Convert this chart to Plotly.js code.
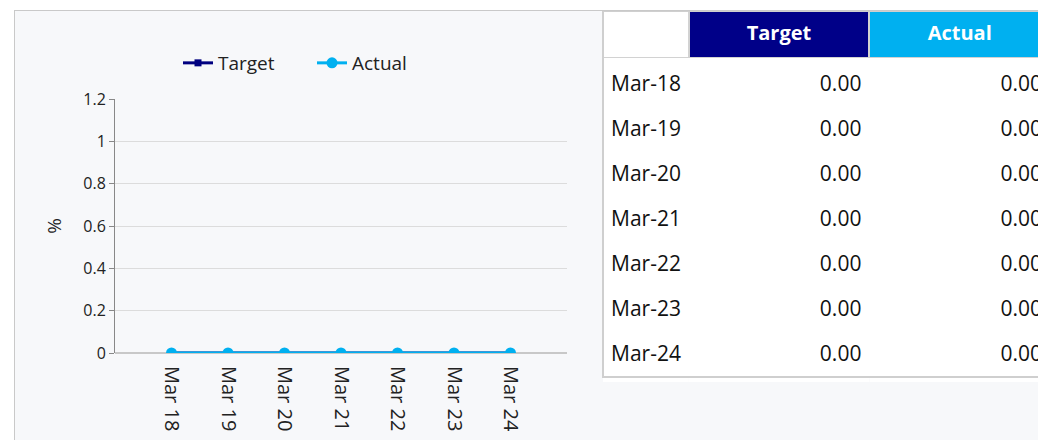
<!DOCTYPE html>
<html>
<head>
<meta charset="utf-8">
<script src="https://cdn.plot.ly/plotly-3.0.1.min.js"></script>
<style>
html,body{margin:0;padding:0;background:#ffffff;width:1038px;height:440px;overflow:hidden;}
#wrap{position:absolute;left:14px;top:10px;width:1100px;height:430px;border-left:1px solid #c9c9c9;border-top:1px solid #c9c9c9;background:#f7f8fa;}
#chart{width:1100px;height:430px;}
</style>
</head>
<body>
<div id="wrap"><div id="chart"></div></div>
<script>
const categories = ['Mar 18','Mar 19','Mar 20','Mar 21','Mar 22','Mar 23','Mar 24'];
const rowLabels = ['Mar-18','Mar-19','Mar-20','Mar-21','Mar-22','Mar-23','Mar-24'];
const targetValues = [0,0,0,0,0,0,0];
const actualValues = [0,0,0,0,0,0,0];
const seriesNames = ['Target','Actual'];
const yTicks = [0,0.2,0.4,0.6,0.8,1,1.2];

const W = 1100, H = 430;
const px = v => v / W;
const py = v => 1 - v / H;

const fmt = a => a.map(v => v.toFixed(2));
const colW = [86, 181, 181];
const tX = [px(588), px(1036)];

const traces = [
  {
    type:'scatter', mode:'lines+markers', name:seriesNames[0],
    x:categories, y:targetValues,
    line:{color:'#000080', width:3},
    marker:{symbol:'square', size:7, color:'#000080'},
    xaxis:'x', yaxis:'y'
  },
  {
    type:'scatter', mode:'lines+markers', name:seriesNames[1],
    x:categories, y:actualValues,
    line:{color:'#00b0f0', width:3},
    marker:{symbol:'circle', size:11, color:'#00b0f0'},
    xaxis:'x', yaxis:'y'
  },
  {
    type:'table',
    domain:{x:tX, y:[0, py(40)]},
    columnwidth:colW,
    header:{values:[], height:0, fill:{color:'#ffffff'}, line:{color:'#ffffff', width:0}},
    cells:{
      values:[rowLabels, fmt(targetValues), fmt(actualValues)],
      fill:{color:'#ffffff'},
      font:{family:'Open Sans, sans-serif', size:21, color:'#111111'},
      align:['left','right','right'],
      height:45,
      line:{color:'#ffffff', width:0}
    }
  },
  {
    type:'table',
    domain:{x:tX, y:[py(47), 1]},
    columnwidth:colW,
    header:{
      values:['', '<b>'+seriesNames[0]+'</b>', '<b>'+seriesNames[1]+'</b>'],
      fill:{color:['#ffffff','#000088','#00b0f0']},
      font:{family:'Open Sans, sans-serif', size:20, color:'#ffffff'},
      align:'center',
      height:47,
      line:{color:'#d2d2d2', width:2}
    },
    cells:{values:[], line:{color:'#ffffff', width:0}, fill:{color:'#ffffff'}}
  }
];

const layout = {
  width:W, height:H,
  margin:{l:0, r:0, t:0, b:0},
  paper_bgcolor:'#f7f8fa',
  plot_bgcolor:'#f7f8fa',
  showlegend:true,
  legend:{
    orientation:'h', x:px(163), y:py(52), xanchor:'left', yanchor:'middle',
    font:{family:'Open Sans, sans-serif', size:19, color:'#222'},
    bgcolor:'rgba(0,0,0,0)', entrywidth:89, entrywidthmode:'pixels'
  },
  xaxis:{
    domain:[px(100), px(552)],
    type:'category',
    range:[-1, 7],
    tickangle:90,
    showgrid:false,
    showline:false,
    ticks:'',
    zeroline:false,
    ticklabelstandoff:12,
    tickfont:{family:'Open Sans, sans-serif', size:20, color:'#222'},
    fixedrange:true
  },
  yaxis:{
    domain:[py(342), py(88)],
    range:[0, 1.2],
    tickvals:yTicks,
    ticktext:yTicks.map(String),
    showgrid:true, gridcolor:'#dcdcdc', gridwidth:1,
    showline:true, linecolor:'#888888', linewidth:1,
    ticks:'outside', ticklen:5, tickcolor:'#888888',
    zeroline:true, zerolinecolor:'#c8c8c8', zerolinewidth:2,
    tickfont:{family:'Open Sans, sans-serif', size:16, color:'#222'},
    title:{text:'%', font:{family:'Open Sans, sans-serif', size:19, color:'#222'}, standoff:16},
    fixedrange:true
  },
  shapes:[
    {type:'rect', xref:'paper', yref:'paper', x0:px(588), x1:px(1036), y0:py(366), y1:py(0),
     line:{width:0}, fillcolor:'#ffffff', layer:'below'},
    {type:'rect', xref:'paper', yref:'paper', x0:px(588), x1:px(1036), y0:py(366), y1:py(0),
     line:{color:'#cfcfcf', width:2}, fillcolor:'rgba(0,0,0,0)', layer:'above'}
  ]
};

Plotly.newPlot('chart', traces, layout, {displayModeBar:false, staticPlot:true});
</script>
</body>
</html>
